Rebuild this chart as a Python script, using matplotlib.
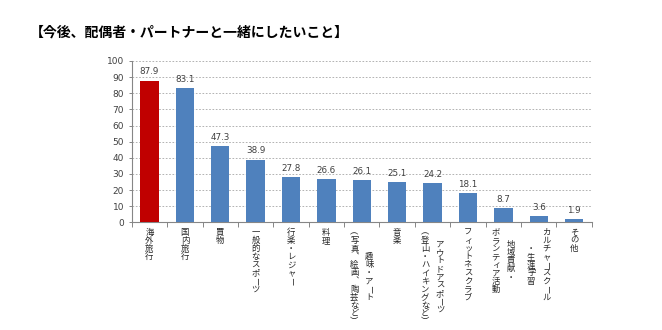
import matplotlib
matplotlib.use('Agg')
import matplotlib.pyplot as plt
import numpy as np

plt.rcParams['font.family'] = ['Noto Sans CJK JP', 'DejaVu Sans']

# data
title = '【今後、配偶者・パートナーと一緒にしたいこと】'
labels = [
    ['海外旅行'],
    ['国内旅行'],
    ['買物'],
    ['一般的なスポーツ'],
    ['行楽・レジャー'],
    ['料理'],
    ['趣味・アート', '（写真、絵画、陶芸など）'],
    ['音楽'],
    ['アウトドアスポーツ', '（登山・ハイキングなど）'],
    ['フィットネスクラブ'],
    ['地域貢献・', 'ボランティア活動'],
    ['カルチャースクール', '・生涯学習'],
    ['その他'],
]
values = [87.9, 83.1, 47.3, 38.9, 27.8, 26.6, 26.1, 25.1, 24.2, 18.1, 8.7, 3.6, 1.9]
colors = ['#C00000'] + ['#4F81BD'] * 12
yticks = list(range(0, 101, 10))

fig = plt.figure(figsize=(6.62, 3.3), dpi=100)
ax = fig.add_axes([0.199, 0.3264, 0.695, 0.4888])

x = np.arange(len(values))
bars = ax.bar(x, values, width=0.52, color=colors, zorder=3)
for xi, v in zip(x, values):
    ax.annotate(f'{v:.1f}', (xi, v), xytext=(0, 3), textcoords='offset points',
                ha='center', va='bottom', fontsize=6.3, color='#404040',
                family=['DejaVu Sans'])

ax.set_xlim(-0.5, len(values) - 0.5)
ax.set_ylim(0, 100)
ax.set_yticks(yticks)
ax.set_yticklabels([str(t) for t in yticks], fontsize=6.5, color='#404040',
                   family=['DejaVu Sans'])
ax.set_xticks(np.arange(-0.5, len(values), 1.0))
ax.set_xticklabels([])
ax.tick_params(axis='x', length=3.5, color='#868686', width=0.7)
ax.tick_params(axis='y', length=2.5, color='#868686', width=0.7, pad=3)
ax.yaxis.grid(True, linestyle=(0, (2, 2)), color='#A6A6A6', linewidth=0.6, zorder=0)
for s in ['top', 'right']:
    ax.spines[s].set_visible(False)
for s in ['left', 'bottom']:
    ax.spines[s].set_color('#868686')
    ax.spines[s].set_linewidth(0.8)

# vertical (tategaki) category labels, drawn character by character
step = 5.85      # points per character
colgap = 10.8    # points between columns
top0 = -4.3      # points below the axis
vert_forms = {'（': '︵', '）': '︶', '、': '︑'}
rot_chars = 'ー'
small = 'ャュョッィァ'
for xi, cols in zip(x, labels):
    n = len(cols)
    longest = max(len(c) for c in cols)
    for j, col in enumerate(cols):
        dx = ((n - 1) / 2 - j) * colgap
        start = (longest - len(col)) / 2
        for i, ch in enumerate(col):
            dy = top0 - (start + i + 0.5) * step
            rot = -90 if ch in rot_chars else 0
            ox = 0.7 if ch in small else 0
            ax.annotate(vert_forms.get(ch, ch), (xi, 0), xycoords=('data', 'axes fraction'),
                        xytext=(dx + ox, dy), textcoords='offset points',
                        ha='center', va='center', fontsize=6.0, color='#262626',
                        rotation=rot, annotation_clip=False)

fig.text(0.045, 0.9, title, fontsize=10, fontweight='bold', ha='left', va='center',
         color='black')

fig.savefig('out.png', dpi=100)
